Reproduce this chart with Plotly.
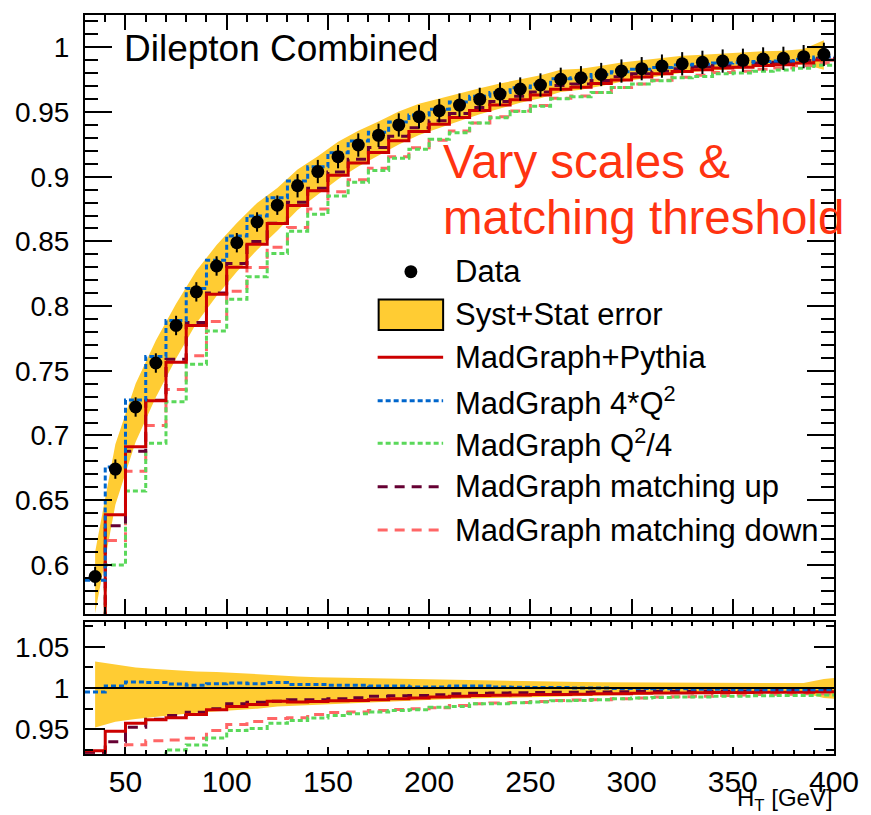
import plotly.graph_objects as go

# ---------------- data ----------------
bin_edges = [30 + 10 * i for i in range(38)]
bin_centers = [35 + 10 * i for i in range(37)]

data_eff = [0.591, 0.674, 0.722, 0.756, 0.785, 0.811, 0.831, 0.849, 0.865, 0.878,
            0.893, 0.904, 0.9155, 0.9245, 0.932, 0.940, 0.9464, 0.951, 0.9554, 0.9598,
            0.9639, 0.9678, 0.9709, 0.9753, 0.9765, 0.979, 0.9817, 0.9835, 0.9855, 0.9873,
            0.9884, 0.9894, 0.990, 0.991, 0.9915, 0.9928, 0.9946]
data_err = [0.0075] * 10 + [0.009] * 27

# relative Syst+Stat band (ratio to data) at bin centres
band_hi = [1.032, 1.0285, 1.025, 1.023, 1.0215, 1.020, 1.0195, 1.018, 1.017, 1.0152,
           1.014, 1.013, 1.0125, 1.012, 1.0115, 1.011, 1.0105, 1.010, 1.0095, 1.009,
           1.0085, 1.008, 1.0078, 1.0075, 1.0072, 1.007, 1.0068, 1.0066, 1.0064, 1.0062,
           1.006, 1.006, 1.006, 1.006, 1.006, 1.006, 1.011]
band_lo = [0.952, 0.959, 0.9625, 0.965, 0.9675, 0.970, 0.972, 0.9735, 0.975, 0.9775,
           0.979, 0.980, 0.981, 0.982, 0.983, 0.984, 0.985, 0.986, 0.987, 0.988,
           0.9885, 0.989, 0.9895, 0.990, 0.9905, 0.991, 0.9915, 0.992, 0.9925, 0.993,
           0.9932, 0.9935, 0.9937, 0.994, 0.994, 0.994, 0.988]
# ratio band closes at the right edge of the last bin
band_ratio_x = bin_centers + [400]
band_ratio_hi = band_hi + [1.012]
band_ratio_lo = band_lo + [0.987]

# MC / Data ratios per bin
ratio_nominal = [0.924, 0.9476, 0.9574, 0.9614, 0.9639, 0.968, 0.9736, 0.9777, 0.9801, 0.9838,
                 0.983, 0.9836, 0.9844, 0.985, 0.9858, 0.987, 0.9878, 0.989, 0.990, 0.991,
                 0.9912, 0.9915, 0.992, 0.9922, 0.9925, 0.993, 0.993, 0.9935, 0.994, 0.994,
                 0.9942, 0.9945, 0.9945, 0.995, 0.995, 0.995, 0.9955]
ratio_4q2 = [0.9952, 1.0025, 1.0074, 1.0066, 1.0049, 1.0033, 1.0053, 1.0061, 1.0053, 1.0066,
             1.0041, 1.0041, 1.0033, 1.0033, 1.0025, 1.0025, 1.0013, 1.0013, 1.0025, 1.0025,
             1.0013, 1.001, 1.0005, 1.0005, 1.0, 1.0, 0.9995, 0.9995, 0.999, 0.999,
             0.9985, 0.9985, 0.998, 0.998, 0.998, 0.998, 0.998]
ratio_q2d4 = [0.85, 0.890, 0.910, 0.918, 0.925, 0.931, 0.9395, 0.9484, 0.951, 0.9574,
              0.9606, 0.9635, 0.9667, 0.9688, 0.9708, 0.9727, 0.9735, 0.9768, 0.9776, 0.981,
              0.981, 0.982, 0.983, 0.9845, 0.985, 0.9858, 0.987, 0.988, 0.9885, 0.989,
              0.989, 0.990, 0.990, 0.9905, 0.991, 0.991, 0.9915]
ratio_up = [0.922, 0.935, 0.9525, 0.962, 0.9667, 0.9707, 0.9749, 0.981, 0.9826, 0.984,
            0.9858, 0.9858, 0.987, 0.9882, 0.9899, 0.9907, 0.991, 0.9919, 0.9931, 0.9935,
            0.994, 0.9942, 0.9945, 0.995, 0.995, 0.9952, 0.9955, 0.996, 0.996, 0.9962,
            0.9965, 0.9965, 0.9965, 0.9968, 0.997, 0.997, 0.997]
ratio_down = [0.920, 0.918, 0.9313, 0.9362, 0.937, 0.939, 0.9484, 0.9557, 0.9594, 0.9630,
              0.9639, 0.968, 0.9703, 0.971, 0.9727, 0.9739, 0.9747, 0.976, 0.9789, 0.981,
              0.9817, 0.9825, 0.9837, 0.985, 0.9855, 0.9858, 0.987, 0.988, 0.989, 0.9895,
              0.990, 0.991, 0.9915, 0.992, 0.9925, 0.993, 0.993]

series_names = ["MadGraph+Pythia", "MadGraph 4*Q<sup>2</sup>", "MadGraph Q<sup>2</sup>/4",
                "MadGraph matching up", "MadGraph matching down"]
series_ratios = [ratio_nominal, ratio_4q2, ratio_q2d4, ratio_up, ratio_down]
series_colors = ["#cc0000", "#0066cc", "#5ad85a", "#660033", "#ff6666"]
series_dash = ["solid", "5px,3px", "5px,3px", "10px,7px", "10px,7px"]

legend_labels = ["Data", "Syst+Stat error"] + series_names

FONT = "Liberation Sans, Arial, Helvetica, sans-serif"

# ---------------- figure ----------------
fig = go.Figure()

# main band
up_main = [d * h for d, h in zip(data_eff, band_hi)]
lo_main = [d * l for d, l in zip(data_eff, band_lo)]
fig.add_trace(go.Scatter(x=bin_centers + bin_centers[::-1], y=up_main + lo_main[::-1],
                         fill="toself", fillcolor="#ffcc33", line=dict(width=0),
                         mode="lines", hoverinfo="skip", xaxis="x", yaxis="y"))
# ratio band
fig.add_trace(go.Scatter(x=band_ratio_x + band_ratio_x[::-1], y=band_ratio_hi + band_ratio_lo[::-1],
                         fill="toself", fillcolor="#ffcc33", line=dict(width=0),
                         mode="lines", hoverinfo="skip", xaxis="x2", yaxis="y2"))

draw_order = [4, 2, 3, 0, 1]
for i in draw_order:
    r = series_ratios[i]
    mc = [d * v for d, v in zip(data_eff, r)]
    fig.add_trace(go.Scatter(x=bin_edges, y=mc + [mc[-1]], mode="lines", line_shape="hv",
                             line=dict(color=series_colors[i], width=3, dash=series_dash[i]),
                             xaxis="x", yaxis="y"))
    fig.add_trace(go.Scatter(x=bin_edges, y=r + [r[-1]], mode="lines", line_shape="hv",
                             line=dict(color=series_colors[i], width=3, dash=series_dash[i]),
                             xaxis="x2", yaxis="y2"))

# unity line in ratio
fig.add_trace(go.Scatter(x=[bin_edges[0], bin_edges[-1]], y=[1, 1], mode="lines",
                         line=dict(color="black", width=2), xaxis="x2", yaxis="y2"))

# data points
fig.add_trace(go.Scatter(x=bin_centers, y=data_eff, mode="markers",
                         marker=dict(color="black", size=13),
                         error_y=dict(type="data", array=data_err, color="black",
                                      thickness=2, width=0),
                         xaxis="x", yaxis="y"))

# ---------------- axes ----------------
main_ticks = [0.6, 0.65, 0.7, 0.75, 0.8, 0.85, 0.9, 0.95, 1.0]
main_ticktext = ["0.6", "0.65", "0.7", "0.75", "0.8", "0.85", "0.9", "0.95", "1"]
ratio_ticks = [0.95, 1.0, 1.05]
ratio_ticktext = ["0.95", "1", "1.05"]
x_ticks = [50, 100, 150, 200, 250, 300, 350, 400]

common_ax = dict(showline=True, linecolor="black", linewidth=2, mirror="ticks",
                 ticks="inside", tickcolor="black", tickwidth=2, showgrid=False,
                 zeroline=False)

fig.update_layout(
    width=871, height=815,
    margin=dict(l=85, r=31, t=15, b=61),
    plot_bgcolor="white", paper_bgcolor="white",
    showlegend=False,
    font=dict(family=FONT, color="black"),
    xaxis=dict(domain=[0, 1], anchor="y", range=[30, 400], tickvals=x_ticks,
               showticklabels=False, ticklen=15,
               minor=dict(dtick=10, ticklen=7, ticks="inside", tickcolor="black", tickwidth=2),
               **common_ax),
    yaxis=dict(domain=[0.18945, 1], anchor="x", range=[0.562, 1.025],
               tickvals=main_ticks, ticktext=main_ticktext, ticklen=27,
               tickfont=dict(size=28, family=FONT), ticklabelstandoff=8,
               minor=dict(dtick=0.01, ticklen=13, ticks="inside", tickcolor="black", tickwidth=2),
               **common_ax),
    xaxis2=dict(domain=[0, 1], anchor="y2", range=[30, 400], matches="x",
                tickvals=x_ticks, ticklen=7, tickfont=dict(size=30, family=FONT),
                minor=dict(dtick=10, ticklen=4, ticks="inside", tickcolor="black", tickwidth=2),
                **common_ax),
    yaxis2=dict(domain=[0, 0.17862], anchor="x2", range=[0.92, 1.08],
                tickvals=ratio_ticks, ticktext=ratio_ticktext, ticklen=20,
                tickfont=dict(size=28, family=FONT), ticklabelstandoff=8,
                minor=dict(dtick=0.025, ticklen=8, ticks="inside", tickcolor="black", tickwidth=2),
                **common_ax),
)

# ---------------- texts ----------------
def px_x(p):
    return (p - 85) / 755.0

def px_y(p):
    return (754 - p) / 739.0

ann = []
ann.append(dict(text="Dilepton Combined", x=px_x(122), y=px_y(49), xref="paper", yref="paper",
                xanchor="left", yanchor="middle", showarrow=False,
                font=dict(size=37, family=FONT, color="black")))
ann.append(dict(text="Vary scales &", x=px_x(444), y=px_y(161), xref="paper", yref="paper",
                xanchor="left", yanchor="middle", showarrow=False,
                font=dict(size=47.5, family=FONT, color="#ff3311")))
ann.append(dict(text="matching threshold", x=px_x(444), y=px_y(217), xref="paper", yref="paper",
                xanchor="left", yanchor="middle", showarrow=False,
                font=dict(size=47.5, family=FONT, color="#ff3311")))
ann.append(dict(text="H<sub>T</sub> [GeV]", x=px_x(841), y=px_y(799), xref="paper", yref="paper",
                xanchor="right", yanchor="middle", showarrow=False,
                font=dict(size=24, family=FONT, color="black")))

leg_rows = [271.7, 314.5, 357.3, 400.7, 443.3, 486.7, 530.0]
for lab, yy in zip(legend_labels, leg_rows):
    ann.append(dict(text=lab, x=px_x(456), y=px_y(yy), xref="paper", yref="paper",
                    xanchor="left", yanchor="middle", showarrow=False,
                    font=dict(size=31, family=FONT, color="black")))

shapes = []
shapes.append(dict(type="circle", xref="paper", yref="paper",
                   x0=px_x(407), x1=px_x(420), y0=px_y(265.2), y1=px_y(278.2),
                   fillcolor="black", line=dict(color="black", width=0)))
shapes.append(dict(type="rect", xref="paper", yref="paper",
                   x0=px_x(381), x1=px_x(446), y0=px_y(299.5), y1=px_y(330),
                   fillcolor="#ffcc33", line=dict(color="black", width=2)))
for i in range(5):
    shapes.append(dict(type="line", xref="paper", yref="paper",
                       x0=px_x(380), x1=px_x(446), y0=px_y(leg_rows[i + 2]), y1=px_y(leg_rows[i + 2]),
                       line=dict(color=series_colors[i], width=3, dash=series_dash[i])))

fig.update_layout(annotations=ann, shapes=shapes)

fig.write_html("out.html")
